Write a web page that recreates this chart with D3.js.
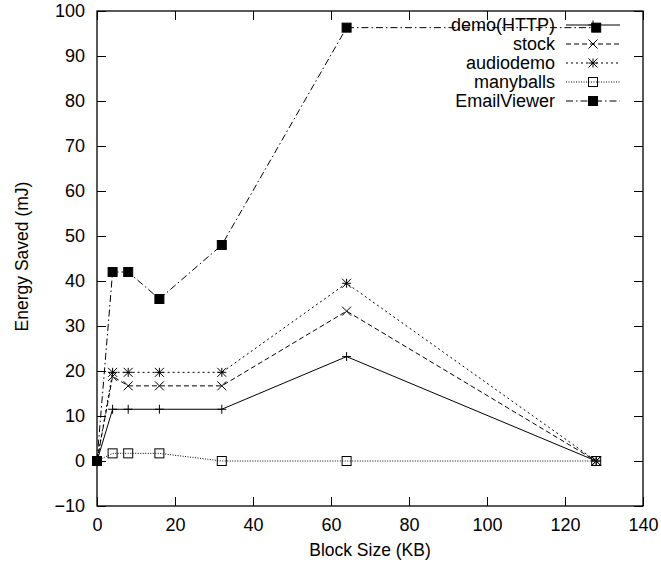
<!DOCTYPE html>
<html>
<head>
<meta charset="utf-8">
<script src="https://cdn.jsdelivr.net/npm/d3@7"></script>
<style>
  body { margin: 0; background: #fff; }
  svg text { font-family: "Liberation Sans", Arial, sans-serif; fill: #000; }
</style>
</head>
<body>
<div id="chart"></div>
<script>
// block sizes (KB)
const blockSizes = [0, 4, 8, 16, 32, 64, 128];

const demoHTTP    = [0, 11.5, 11.5, 11.5, 11.5, 23.2, 0];
const stock       = [0, 18.8, 16.7, 16.7, 16.7, 33.3, 0];
const audiodemo   = [0, 19.7, 19.7, 19.7, 19.7, 39.5, 0];
const manyballs   = [0, 1.7, 1.7, 1.7, 0, 0, 0];
const emailViewer = [0, 42, 42, 36, 48, 96.3, 96.3];

const seriesNames = ["demo(HTTP)", "stock", "audiodemo", "manyballs", "EmailViewer"];
const seriesValues = [demoHTTP, stock, audiodemo, manyballs, emailViewer];

const xTicks = [0, 20, 40, 60, 80, 100, 120, 140];
const yTicks = [-10, 0, 10, 20, 30, 40, 50, 60, 70, 80, 90, 100];

// drawing styles per series
const dashes = [null, "5,3", "2,3", "1,1.5", "7,3,1.5,3"];
const markers = ["plus", "cross", "star", "box", "fbox"];

const W = 661, H = 567;
const margin = {top: 11, right: 18, bottom: 61, left: 97};
const width = W - margin.left - margin.right,
      height = H - margin.top - margin.bottom;

const svg = d3.select("#chart").append("svg")
    .attr("width", W).attr("height", H);

const g = svg.append("g")
    .attr("transform", "translate(" + margin.left + "," + margin.top + ")");

const x = d3.scaleLinear().domain([0, 140]).range([0, width]);
const y = d3.scaleLinear().domain([-10, 100]).range([height, 0]);

// axes, ticks pointing inwards on all four sides
function styleAxis(sel) {
  sel.select(".domain").remove();
  sel.selectAll(".tick line").attr("stroke", "#000").attr("stroke-width", 1);
  sel.selectAll(".tick text").style("font-size", "18px");
}

g.append("g")
    .attr("transform", "translate(0," + height + ")")
    .call(d3.axisBottom(x).tickValues(xTicks).tickSizeInner(-9).tickSizeOuter(0).tickPadding(12))
    .call(styleAxis);
g.append("g")
    .call(d3.axisTop(x).tickValues(xTicks).tickSizeInner(-9).tickSizeOuter(0).tickFormat(""))
    .call(styleAxis);
g.append("g")
    .call(d3.axisLeft(y).tickValues(yTicks).tickSizeInner(-9).tickSizeOuter(0).tickPadding(12))
    .call(styleAxis);
g.append("g")
    .attr("transform", "translate(" + width + ",0)")
    .call(d3.axisRight(y).tickValues(yTicks).tickSizeInner(-9).tickSizeOuter(0).tickFormat(""))
    .call(styleAxis);

g.append("rect")
    .attr("width", width).attr("height", height)
    .attr("fill", "none").attr("stroke", "#000").attr("stroke-width", 1.3);

// axis titles
svg.append("text")
    .attr("text-anchor", "middle")
    .attr("x", margin.left + width / 2)
    .attr("y", 556)
    .style("font-size", "17.5px")
    .text("Block Size (KB)");

svg.append("text")
    .attr("text-anchor", "middle")
    .attr("transform", "translate(28," + (margin.top + height / 2 - 2) + ") rotate(-90)")
    .style("font-size", "17.5px")
    .text("Energy Saved (mJ)");

// point symbols
function marker(sel, type, cx, cy) {
  const r = 4.5;
  if (type === "plus") {
    sel.append("path").attr("d", `M${cx - r},${cy}H${cx + r}M${cx},${cy - r}V${cy + r}`)
      .attr("stroke", "#000").attr("fill", "none");
  } else if (type === "cross") {
    sel.append("path").attr("d", `M${cx - r},${cy - r}L${cx + r},${cy + r}M${cx - r},${cy + r}L${cx + r},${cy - r}`)
      .attr("stroke", "#000").attr("fill", "none");
  } else if (type === "star") {
    sel.append("path").attr("d", `M${cx - r},${cy}H${cx + r}M${cx},${cy - r}V${cy + r}` +
        `M${cx - r},${cy - r}L${cx + r},${cy + r}M${cx - r},${cy + r}L${cx + r},${cy - r}`)
      .attr("stroke", "#000").attr("fill", "none");
  } else if (type === "box") {
    sel.append("rect").attr("x", cx - r).attr("y", cy - r).attr("width", 2 * r).attr("height", 2 * r)
      .attr("stroke", "#000").attr("fill", "none");
  } else {
    sel.append("rect").attr("x", cx - r).attr("y", cy - r).attr("width", 2 * r).attr("height", 2 * r)
      .attr("stroke", "#000").attr("fill", "#000");
  }
}

const line = d3.line()
    .x(d => x(d[0]))
    .y(d => y(d[1]));

// legend geometry (absolute page coords)
const legTextX = 555, legX1 = 566, legX2 = 620, legY0 = 25, legStep = 19;

seriesNames.forEach((name, i) => {
  const vals = seriesValues[i];
  const pts = blockSizes.map((b, j) => [b, vals[j]]);

  // legend entry
  const ly = legY0 + i * legStep;
  const leg = svg.append("g");
  leg.append("text")
      .attr("x", legTextX).attr("y", ly)
      .attr("dy", "0.35em")
      .attr("text-anchor", "end")
      .style("font-size", "18px")
      .text(name);
  leg.append("line")
      .attr("x1", legX1).attr("x2", legX2).attr("y1", ly).attr("y2", ly)
      .attr("stroke", "#000").attr("stroke-width", 1)
      .attr("stroke-dasharray", dashes[i]);
  marker(leg, markers[i], (legX1 + legX2) / 2, ly);

  // data line and points
  g.append("path")
      .datum(pts)
      .attr("fill", "none")
      .attr("stroke", "#000")
      .attr("stroke-width", 1)
      .attr("stroke-dasharray", dashes[i])
      .attr("d", line);

  const pg = g.append("g");
  pts.forEach(p => marker(pg, markers[i], x(p[0]), y(p[1])));
});
</script>
</body>
</html>
